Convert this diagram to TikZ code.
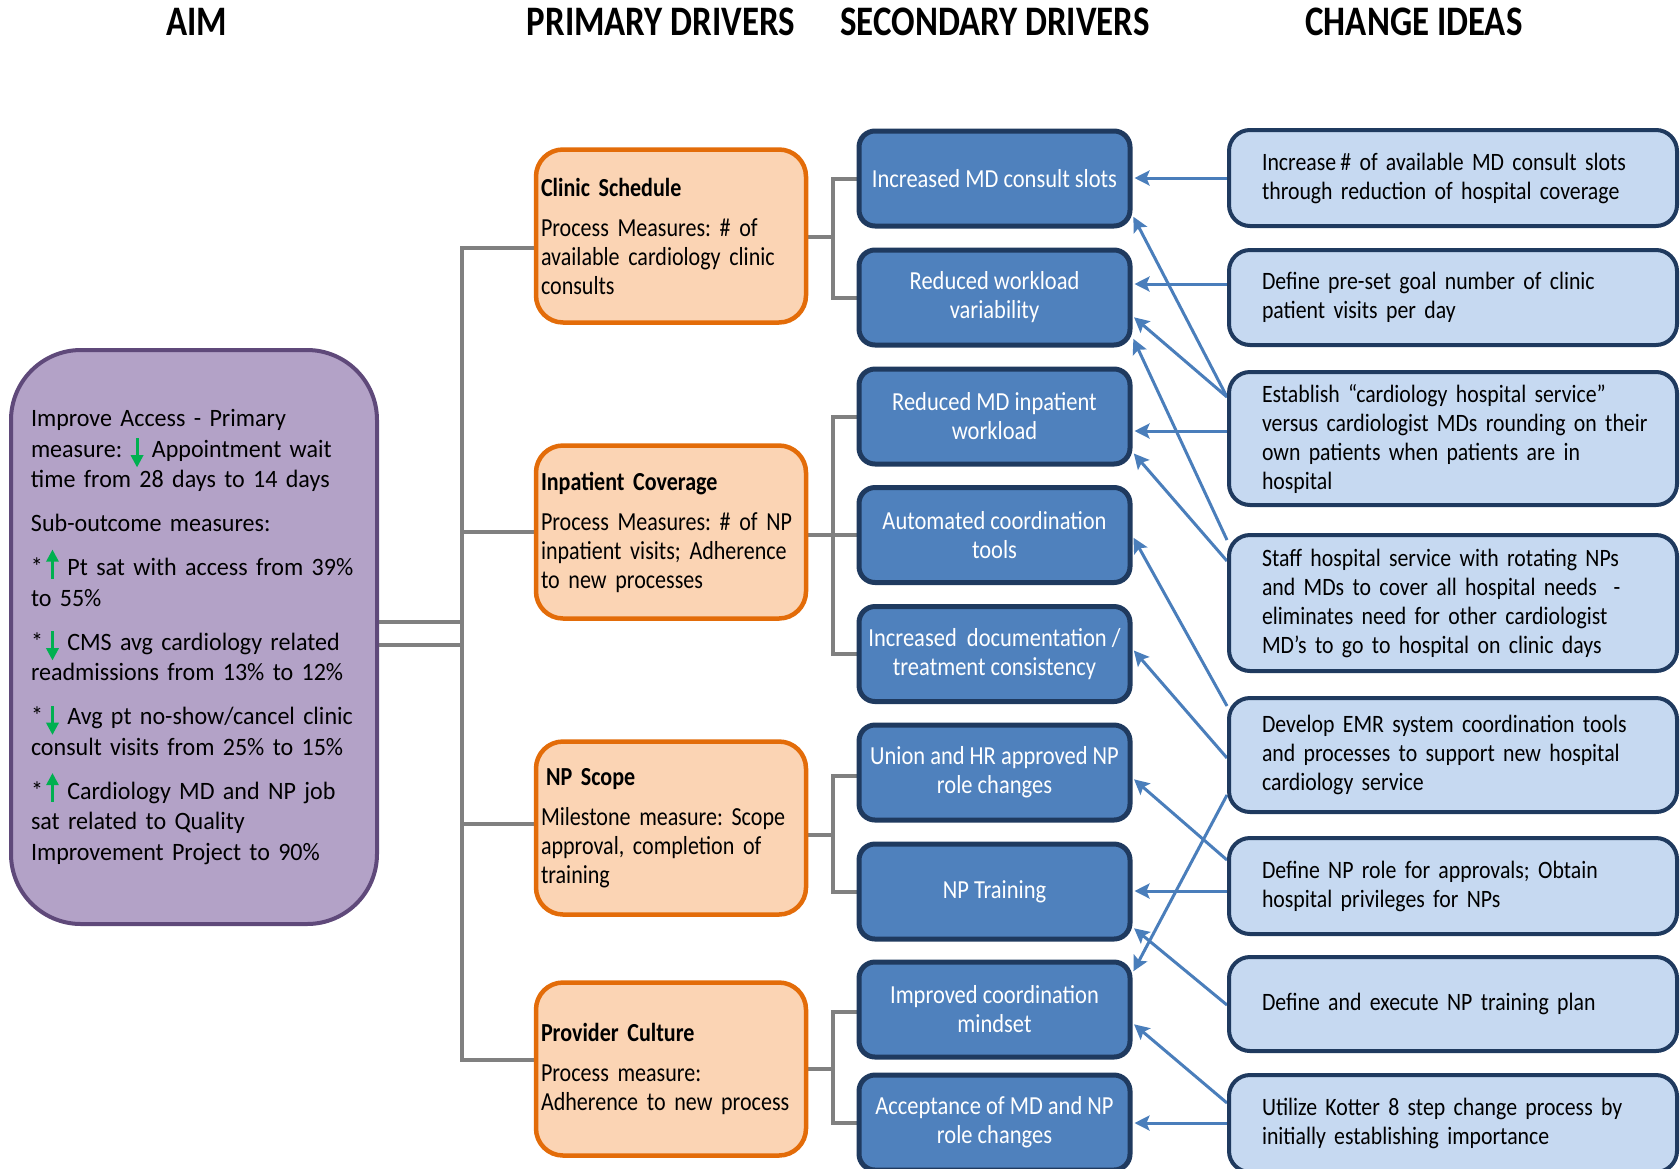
\documentclass[tikz,border=0pt]{standalone}
\usepackage{fontspec}
\setmainfont{Carlito}[FakeStretch=0.962]
\newfontfamily\condfont{Carlito}[FakeStretch=0.865]
\newfontfamily\pdfont{Carlito}[FakeStretch=0.848]
\newfontfamily\cifont{Carlito}[FakeStretch=0.872]
\newfontfamily\titlefont{Carlito}[FakeStretch=0.83]
\usetikzlibrary{arrows.meta,backgrounds}
\definecolor{aimfill}{HTML}{B3A2C7}
\definecolor{aimdraw}{HTML}{5F497A}
\definecolor{pdfill}{HTML}{FBD4B4}
\definecolor{pddraw}{HTML}{E36C09}
\definecolor{sdfill}{HTML}{4F81BD}
\definecolor{sddraw}{HTML}{1F3A5F}
\definecolor{cifill}{HTML}{C6D9F1}
\definecolor{cidraw}{HTML}{1F3A5F}
\definecolor{gline}{HTML}{808080}
\definecolor{barr}{HTML}{4A7EBB}
\definecolor{greenarr}{HTML}{00B050}
\frenchspacing
\newcommand\ml[1]{\mbox{#1}}
\newcommand\uparr{\raisebox{0pt}[0pt][0pt]{\tikz[baseline=0pt,x=1pt,y=1pt,sharp corners]{\fill[greenarr] (-1.5,-3) rectangle (1.5,15); \fill[greenarr] (-6.5,14)--(6.5,14)--(0,26)--cycle;}}}
\newcommand\downarr{\raisebox{0pt}[0pt][0pt]{\tikz[baseline=0pt,x=1pt,y=1pt,sharp corners]{\fill[greenarr] (-1.5,19) rectangle (1.5,1); \fill[greenarr] (-6.5,2)--(6.5,2)--(0,-10)--cycle;}}}
\tikzset{
 aimbox/.style={draw=aimdraw, fill=aimfill, line width=4pt, rounded corners=70pt, minimum width=366pt, minimum height=574pt, inner sep=0pt, text width=326pt, align=left, font=\fontsize{25}{30.5}\selectfont},
 pdbox/.style={draw=pddraw, fill=pdfill, line width=4.5pt, rounded corners=27pt, minimum width=270pt, minimum height=173pt, inner sep=0pt, text width=260pt, align=left, font=\pdfont\fontsize{26}{29}\selectfont},
 sdbox/.style={draw=sddraw, fill=sdfill, line width=5pt, rounded corners=16pt, minimum width=271pt, minimum height=95pt, inner sep=0pt, align=center, text=white, font=\condfont\fontsize{26}{29}\selectfont},
 cibox/.style={draw=cidraw, fill=cifill, line width=4pt, rounded corners=21pt, minimum width=448pt, inner sep=0pt, text width=382pt, align=left, font=\cifont\fontsize{25}{29}\selectfont},
 gconn/.style={draw=gline, line width=4pt},
 barrow/.style={draw=barr, line width=3pt, -{Stealth[length=15pt,width=15pt,inset=3pt]}, shorten >=2pt},
 titletext/.style={font=\titlefont\bfseries\fontsize{42}{50}\selectfont, inner sep=0pt},
}
\begin{document}
\begin{tikzpicture}[x=1pt,y=-1pt]
\useasboundingbox (0,0) rectangle (1680,1168);
% titles
\node[titletext] (tAim) at (197,22) {AIM};
\node[titletext] (tPrim) at (661,22) {PRIMARY DRIVERS};
\node[titletext] (tSec) at (995,22) {SECONDARY DRIVERS};
\node[titletext] (tCh) at (1414,22) {CHANGE IDEAS};
% aim
\node[aimbox] (aim) at (194,637) {%
\ml{Improve Access - Primary}\\
\ml{measure: \downarr\ Appointment wait}\\
\ml{time from 28 days to 14 days}\\[13.5pt]
\ml{Sub-outcome measures:}\\[13.5pt]
\ml{*\hspace{3pt}\uparr\ Pt sat with access from 39\%}\\
\ml{to 55\%}\\[13.5pt]
\ml{*\hspace{3pt}\downarr\ CMS avg cardiology related}\\
\ml{readmissions from 13\% to 12\%}\\[13.5pt]
\ml{*\hspace{3pt}\downarr\ Avg pt no-show/cancel clinic}\\
\ml{consult visits from 25\% to 15\%}\\[13.5pt]
\ml{*\hspace{3pt}\uparr\ Cardiology MD and NP job}\\
\ml{sat related to Quality}\\
\ml{Improvement Project to 90\%}};
% primary drivers
\node[pdbox] (cs) at (671,236) {\ml{\textbf{Clinic Schedule}}\\[11pt] \ml{Process Measures: \# of}\\ \ml{available cardiology clinic}\\ \ml{consults}};
\node[pdbox] (ic) at (671,532) {\ml{\textbf{Inpatient Coverage}}\\[11pt] \ml{Process Measures: \# of NP}\\ \ml{inpatient visits; Adherence}\\ \ml{to new processes}};
\node[pdbox] (np) at (671,828) {\ml{\hspace*{5pt}\textbf{NP Scope}}\\[11pt] \ml{Milestone measure: Scope}\\ \ml{approval, completion of}\\ \ml{training}};
\node[pdbox] (pc) at (671,1069) {\ml{\textbf{Provider Culture}}\\[11pt] \ml{Process measure:}\\ \ml{Adherence to new process}};
% secondary drivers
\node[sdbox] (s1) at (994.5,178.5) {Increased MD consult slots};
\node[sdbox] (s2) at (994.5,297.5) {Reduced workload\\variability};
\node[sdbox] (s3) at (994.5,416.5) {Reduced MD inpatient\\workload};
\node[sdbox] (s4) at (994.5,535) {Automated coordination\\tools};
\node[sdbox] (s5) at (994.5,654) {Increased~ documentation /\\treatment consistency};
\node[sdbox] (s6) at (994.5,772.5) {Union and HR approved NP\\role changes};
\node[sdbox] (s7) at (994.5,891.5) {NP Training};
\node[sdbox] (s8) at (994.5,1009.5) {Improved coordination\\mindset};
\node[sdbox] (s9) at (994.5,1122.5) {Acceptance of MD and NP\\role changes};
% change ideas
\node[cibox, minimum height=96pt] (ci1) at (1453,178) {\ml{Increase\,\# of available MD consult slots}\\ \ml{through reduction of hospital coverage}};
\node[cibox, minimum height=95pt] (ci2) at (1453,297.5) {\ml{Define pre-set goal number of clinic}\\ \ml{patient visits per day}};
\node[cibox, minimum height=133pt] (ci3) at (1453,438.5) {\ml{Establish “cardiology hospital service”}\\ \ml{versus cardiologist MDs rounding on their}\\ \ml{own patients when patients are in}\\ \ml{hospital}};
\node[cibox, minimum height=136pt] (ci4) at (1453,603) {\ml{Staff hospital service with rotating NPs}\\ \ml{and MDs to cover all hospital needs~ -}\\ \ml{eliminates need for other cardiologist}\\ \ml{MD’s to go to hospital on clinic days}};
\node[cibox, minimum height=114pt] (ci5) at (1453,755) {\ml{Develop EMR system coordination tools}\\ \ml{and processes to support new hospital}\\ \ml{cardiology service}};
\node[cibox, minimum height=96pt] (ci6) at (1453,886) {\ml{Define NP role for approvals; Obtain}\\ \ml{hospital privileges for NPs}};
\node[cibox, minimum height=94pt] (ci7) at (1453,1004) {\ml{Define and execute NP training plan}};
\node[cibox, minimum height=97pt] (ci8) at (1453,1123.5) {\ml{Utilize Kotter 8 step change process by}\\ \ml{initially establishing importance}};
% connectors
\begin{scope}[on background layer]
\fill[white] (0,0) rectangle (1680,1168);
\coordinate (tx) at (462,0);
\coordinate (fx) at (833,0);
\draw[gconn] (aim.east |- 0,622) -- (tx |- 0,622);
\draw[gconn] (aim.east |- 0,645) -- (tx |- 0,645);
\draw[gconn] (cs.west |- 0,248) -| (tx |- 0,1060) -- (pc.west |- 0,1060);
\draw[gconn] (tx |- ic.west) -- (ic.west);
\draw[gconn] (tx |- 0,824) -- (np.west |- 0,824);
\draw[gconn] (cs.east |- 0,237) -- (fx |- 0,237);
\draw[gconn] (s1.west) -| (fx |- s2.west) -- (s2.west);
\draw[gconn] (ic.east |- s4.west) -- (s4.west);
\draw[gconn] (s3.west) -| (fx |- s5.west) -- (s5.west);
\draw[gconn] (np.east |- 0,835) -- (fx |- 0,835);
\draw[gconn] (s6.west |- 0,776) -| (fx |- s7.west) -- (s7.west);
\draw[gconn] (pc.east) -- (pc.east -| fx);
\draw[gconn] (s8.west |- 0,1012) -| (fx |- s9.west) -- (s9.west);
\draw[barrow] (ci1.west) -- (ci1.west -| s1.east);
\draw[barrow] (ci2.west |- 0,284) -- (s2.east |- 0,284);
\draw[barrow] (ci3.west |- 0,397) -- (s1.east |- 0,215);
\draw[barrow] (ci3.west |- 0,397) -- (s2.east |- 0,316);
\draw[barrow] (ci3.west |- 0,431) -- (s3.east |- 0,431);
\draw[barrow] (ci4.west |- 0,540) -- (s2.east |- 0,337);
\draw[barrow] (ci4.west |- 0,561) -- (s3.east |- 0,452);
\draw[barrow] (ci5.west |- 0,706) -- (s4.east |- 0,536);
\draw[barrow] (ci5.west |- 0,758) -- (s5.east |- 0,649);
\draw[barrow] (ci5.west |- 0,795) -- (s8.east |- 0,973);
\draw[barrow] (ci6.west |- 0,860) -- (s6.east |- 0,778);
\draw[barrow] (ci6.west |- 0,891) -- (s7.east |- 0,891);
\draw[barrow] (ci7.west |- 0,1005) -- (s7.east |- 0,927);
\draw[barrow] (ci8.west |- 0,1103) -- (s8.east |- 0,1023);
\draw[barrow] (ci8.west |- 0,1123) -- (s9.east |- 0,1123);
\end{scope}
\end{tikzpicture}
\end{document}
